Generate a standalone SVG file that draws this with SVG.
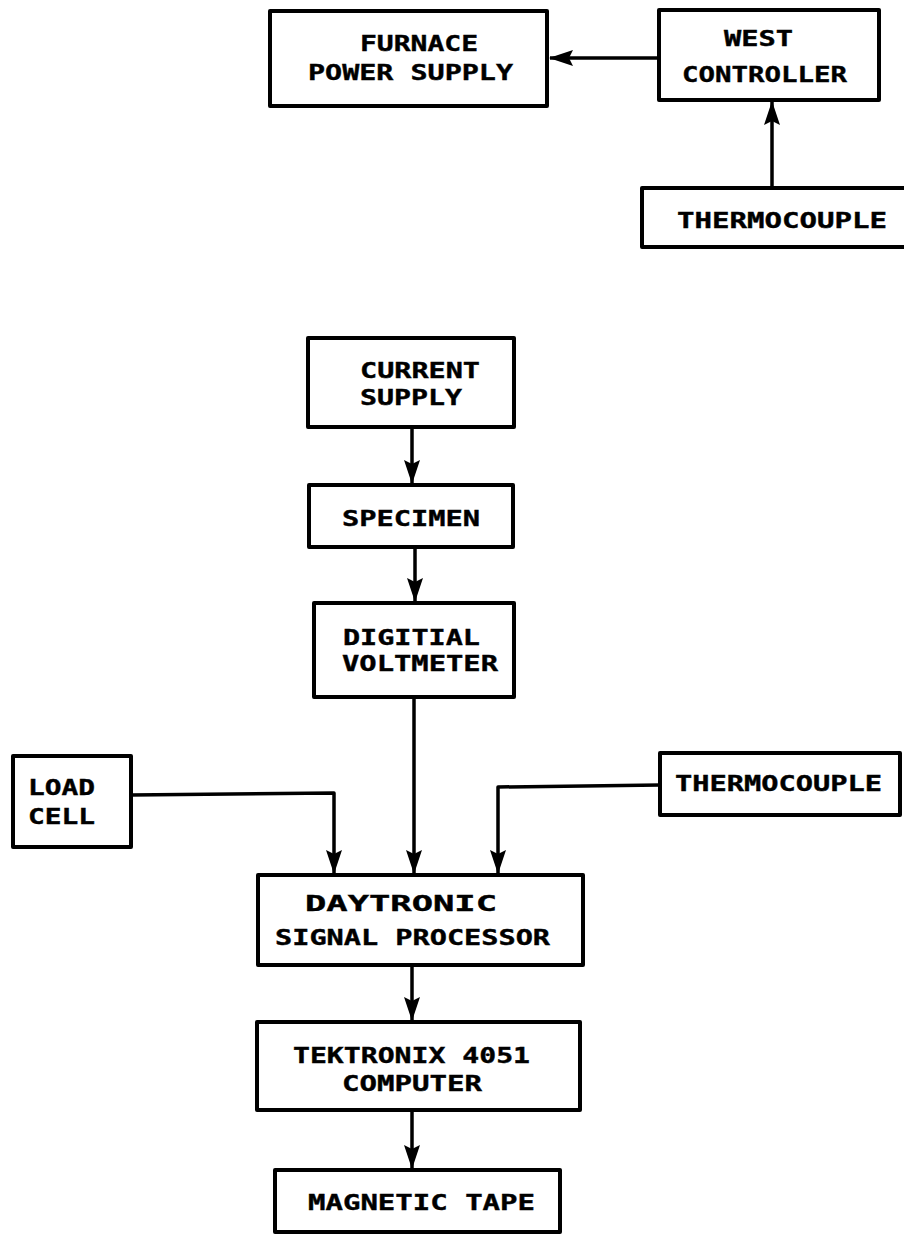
<svg xmlns="http://www.w3.org/2000/svg" width="904" height="1234" viewBox="0 0 904 1234">
<style>
  .box { fill: #fff; stroke: #000; stroke-width: 4; stroke-linejoin: round; }
  .lbl { font-family: "DejaVu Sans Mono", "Liberation Mono", monospace; font-weight: bold; font-size: 22px; fill: #000; stroke: #000; stroke-width: 0.4; }
  .wire { fill: none; stroke: #000; stroke-width: 3.5; stroke-linejoin: round; }
</style>
<defs>
  <marker id="arr" viewBox="0 0 24 16" refX="23" refY="8" markerWidth="24" markerHeight="16" markerUnits="userSpaceOnUse" orient="auto">
    <path d="M0,0 L24,8 L0,16 L4,8 z" fill="#000"/>
  </marker>
</defs>
<rect width="904" height="1234" fill="#fff"/>

<g id="connectors">
  <line class="wire" x1="659" y1="58" x2="550" y2="58" marker-end="url(#arr)"/>
  <line class="wire" x1="772" y1="188" x2="772" y2="102" marker-end="url(#arr)"/>
  <line class="wire" x1="412" y1="427" x2="412" y2="483" marker-end="url(#arr)"/>
  <line class="wire" x1="415" y1="547" x2="415" y2="601" marker-end="url(#arr)"/>
  <line class="wire" x1="414" y1="697" x2="414" y2="873" marker-end="url(#arr)"/>
  <polyline class="wire" points="131,795 334,793 334,873" marker-end="url(#arr)"/>
  <polyline class="wire" points="660,785 498,787 498,873" marker-end="url(#arr)"/>
  <line class="wire" x1="412" y1="965" x2="412" y2="1020" marker-end="url(#arr)"/>
  <line class="wire" x1="412" y1="1110" x2="412" y2="1168" marker-end="url(#arr)"/>
</g>

<g id="furnace-power-supply">
  <rect class="box" x="270" y="11" width="277" height="95"/>
  <text class="lbl" x="360" y="51" textLength="118" lengthAdjust="spacingAndGlyphs">FURNACE</text>
  <text class="lbl" x="308" y="80" textLength="205" lengthAdjust="spacingAndGlyphs">POWER SUPPLY</text>
</g>
<g id="west-controller">
  <rect class="box" x="659" y="10" width="220" height="90"/>
  <text class="lbl" x="724" y="46" textLength="69" lengthAdjust="spacingAndGlyphs">WEST</text>
  <text class="lbl" x="682" y="82" textLength="165" lengthAdjust="spacingAndGlyphs">CONTROLLER</text>
</g>
<g id="thermocouple-top">
  <rect class="box" x="642" y="188" width="272" height="59"/>
  <text class="lbl" x="677" y="228" textLength="210" lengthAdjust="spacingAndGlyphs">THERMOCOUPLE</text>
</g>
<g id="current-supply">
  <rect class="box" x="308" y="338" width="206" height="89"/>
  <text class="lbl" x="360" y="378" textLength="120" lengthAdjust="spacingAndGlyphs">CURRENT</text>
  <text class="lbl" x="360" y="405" textLength="102" lengthAdjust="spacingAndGlyphs">SUPPLY</text>
</g>
<g id="specimen">
  <rect class="box" x="309" y="485" width="204" height="62"/>
  <text class="lbl" x="342" y="526" textLength="138" lengthAdjust="spacingAndGlyphs">SPECIMEN</text>
</g>
<g id="digital-voltmeter">
  <rect class="box" x="314" y="603" width="200" height="94"/>
  <text class="lbl" x="343" y="645" textLength="137" lengthAdjust="spacingAndGlyphs">DIGITIAL</text>
  <text class="lbl" x="342" y="671" textLength="156" lengthAdjust="spacingAndGlyphs">VOLTMETER</text>
</g>
<g id="load-cell">
  <rect class="box" x="13" y="756" width="118" height="91"/>
  <text class="lbl" x="28" y="795" textLength="67" lengthAdjust="spacingAndGlyphs">LOAD</text>
  <text class="lbl" x="28" y="824" textLength="67" lengthAdjust="spacingAndGlyphs">CELL</text>
</g>
<g id="thermocouple-bottom">
  <rect class="box" x="660" y="753" width="240" height="62"/>
  <text class="lbl" x="675" y="791" textLength="207" lengthAdjust="spacingAndGlyphs">THERMOCOUPLE</text>
</g>
<g id="daytronic-signal-processor">
  <rect class="box" x="258" y="875" width="325" height="90"/>
  <text class="lbl" x="305" y="911" textLength="192" lengthAdjust="spacingAndGlyphs">DAYTRONIC</text>
  <text class="lbl" x="275" y="945" textLength="275" lengthAdjust="spacingAndGlyphs">SIGNAL PROCESSOR</text>
</g>
<g id="tektronix-computer">
  <rect class="box" x="257" y="1022" width="323" height="88"/>
  <text class="lbl" x="293" y="1063" textLength="237" lengthAdjust="spacingAndGlyphs">TEKTRONIX 4051</text>
  <text class="lbl" x="342" y="1091" textLength="140" lengthAdjust="spacingAndGlyphs">COMPUTER</text>
</g>
<g id="magnetic-tape">
  <rect class="box" x="275" y="1170" width="285" height="62"/>
  <text class="lbl" x="308" y="1210" textLength="227" lengthAdjust="spacingAndGlyphs">MAGNETIC TAPE</text>
</g>
</svg>
